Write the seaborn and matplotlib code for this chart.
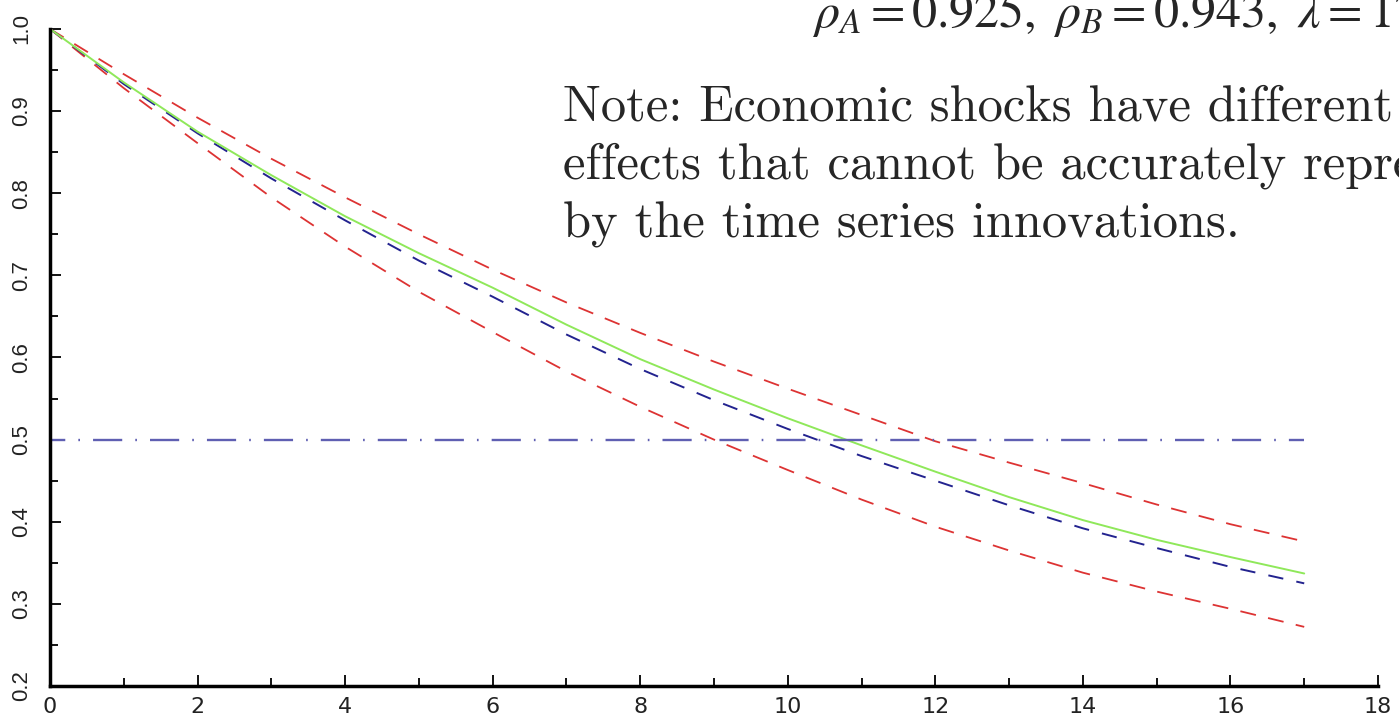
import matplotlib
matplotlib.use("Agg")
import matplotlib.pyplot as plt
import seaborn as sns
import pandas as pd
from matplotlib.ticker import MultipleLocator, FixedLocator

# ---------------- data ----------------
years = list(range(18))
fitted = [1.0, 0.935, 0.875, 0.822, 0.772, 0.727, 0.685, 0.640, 0.598, 0.561,
          0.526, 0.493, 0.461, 0.430, 0.402, 0.378, 0.357, 0.337]
estimate = [1.0, 0.933, 0.873, 0.818, 0.767, 0.718, 0.674, 0.628, 0.586, 0.548,
            0.513, 0.480, 0.450, 0.420, 0.392, 0.368, 0.345, 0.325]
upper_band = [1.0, 0.945, 0.892, 0.842, 0.795, 0.750, 0.707, 0.667, 0.630, 0.595,
              0.562, 0.530, 0.498, 0.472, 0.447, 0.421, 0.397, 0.376]
lower_band = [1.0, 0.928, 0.861, 0.795, 0.735, 0.680, 0.631, 0.583, 0.540, 0.500,
              0.463, 0.427, 0.394, 0.365, 0.338, 0.315, 0.294, 0.272]
half_x = [0, 17]
half_y = [0.5, 0.5]
x_ticks = [0, 2, 4, 6, 8, 10, 12, 14, 16, 18]
x_labels = ["0", "2", "4", "6", "8", "10", "12", "14", "16", "18"]
y_ticks = [0.2, 0.3, 0.4, 0.5, 0.6, 0.7, 0.8, 0.9, 1.0]
y_labels = ["0.2", "0.3", "0.4", "0.5", "0.6", "0.7", "0.8", "0.9", "1.0"]
header = r"$\rho_A = 0.925,\ \rho_B = 0.943,\ \lambda = 17$"
note = "Note: Economic shocks have different\neffects that cannot be accurately represented\nby the time series innovations."

# ---------------- style ----------------
sns.set_style("ticks")
plt.rcParams["lines.scale_dashes"] = False
plt.rcParams["mathtext.fontset"] = "stix"
plt.rcParams["font.family"] = ["Liberation Sans", "DejaVu Sans"]

fig = plt.figure(figsize=(13.99, 7.16), dpi=100)
ax = fig.add_axes([50 / 1399, (716 - 686) / 716, (1378 - 50) / 1399, (686 - 29) / 716])

df = pd.DataFrame({"year": years, "fitted": fitted, "estimate": estimate,
                   "upper": upper_band, "lower": lower_band})

red = "#dd3333"
sns.lineplot(data=df, x="year", y="upper", ax=ax, color=red, lw=1.3,
             linestyle=(0, (11.5, 9.0)), errorbar=None, clip_on=False)
sns.lineplot(data=df, x="year", y="lower", ax=ax, color=red, lw=1.3,
             linestyle=(0, (11.5, 9.0)), errorbar=None, clip_on=False)
sns.lineplot(data=df, x="year", y="estimate", ax=ax, color="#23238f", lw=1.4,
             linestyle=(0, (11.0, 9.6)), errorbar=None, clip_on=False)
sns.lineplot(data=df, x="year", y="fitted", ax=ax, color="#8fe85a", lw=1.4,
             linestyle="-", errorbar=None, clip_on=False)
sns.lineplot(x=half_x, y=half_y, ax=ax, color="#5f5fb2", lw=1.7,
             linestyle=(10, (21, 9.4, 1.2, 9.4)), errorbar=None)

ax.set_xlim(0, 18)
ax.set_ylim(0.2, 1.0)
ax.set_xlabel("")
ax.set_ylabel("")
sns.despine(ax=ax)
for s in ("left", "bottom"):
    ax.spines[s].set_linewidth(2.5)
    ax.spines[s].set_color("black")

ax.xaxis.set_major_locator(FixedLocator(x_ticks))
ax.xaxis.set_minor_locator(MultipleLocator(1))
ax.yaxis.set_major_locator(FixedLocator(y_ticks))
ax.yaxis.set_minor_locator(MultipleLocator(0.05))
ax.set_xticklabels(x_labels, family="DejaVu Sans")
ax.set_yticklabels(y_labels, rotation=90, va="center")

ax.tick_params(axis="both", which="major", direction="in", length=8, width=1.3, color="black")
ax.tick_params(axis="both", which="minor", direction="in", length=6, width=1.3, color="black")
ax.tick_params(axis="x", which="major", pad=8, labelsize=16, labelcolor="#222222")
ax.tick_params(axis="y", which="major", pad=13, labelsize=16, labelcolor="#222222")

fig.text(812 / 1399, (716 - 27) / 716, header, fontsize=36, va="baseline", ha="left")
fig.text(563 / 1399, (716 - 237) / 716, note, fontsize=36.4, family="cmr10",
         va="baseline", ha="left", linespacing=1.34)

fig.savefig("out.png", dpi=100)
